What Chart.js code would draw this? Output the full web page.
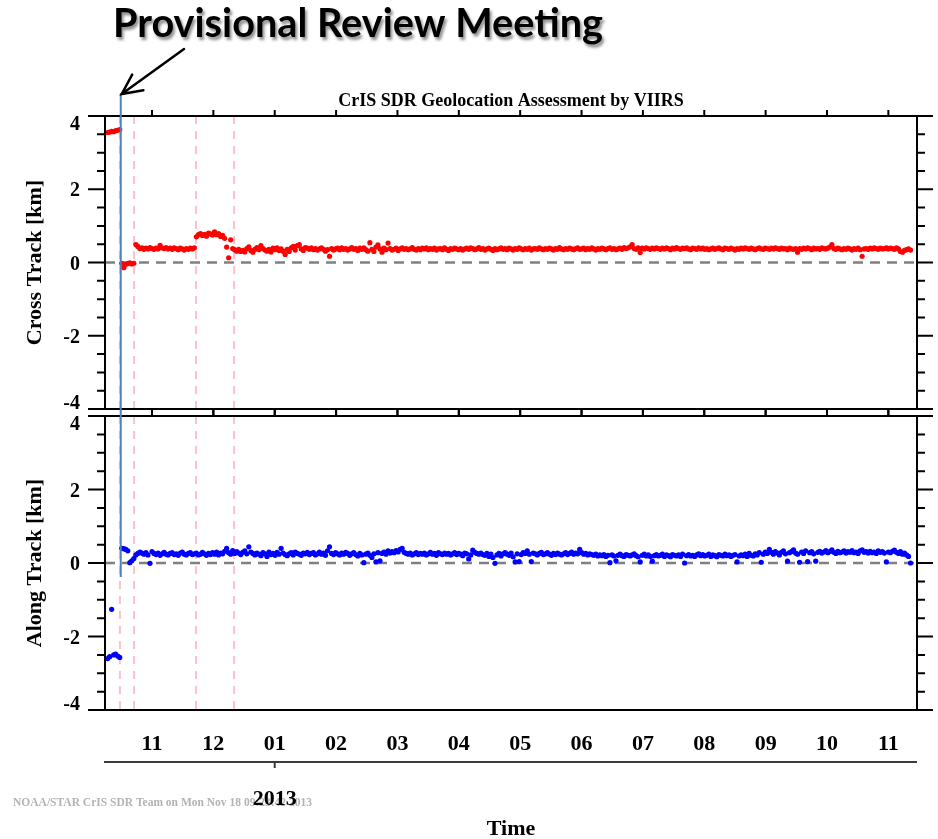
<!DOCTYPE html>
<html>
<head>
<meta charset="utf-8">
<script src="https://cdn.jsdelivr.net/npm/chart.js@4.4.1/dist/chart.umd.min.js"></script>
<style>
  html, body { margin: 0; padding: 0; background: #ffffff; }
  #wrap { position: relative; width: 938px; height: 839px; }
  #wrap canvas { position: absolute; left: 0; top: 0; }
</style>
</head>
<body>
<div id="wrap">
  <canvas id="cross" width="938" height="839"></canvas>
  <canvas id="along" width="938" height="839"></canvas>
</div>
<script>
// Time axis: days counted from 1 Nov 2012, month ticks every 365/12 days.
const MONTH_DAYS = 365 / 12;
const MONTH_LABELS = ['11', '12', '01', '02', '03', '04', '05', '06', '07', '08', '09', '10', '11'];
const YEAR_LABEL = '2013';
const YEAR_TICK_INDEX = 2;            // January
const DAY_MIN = -23.3;
const DAY_MAX = 379.2;

const Y_MAJOR = [-4, -2, 0, 2, 4];
const Y_TICK_LABELS = ['-4', '-2', '0', '2', '4'];
const Y_MINOR = [-3.5, -3, -2.5, -1.5, -1, -0.5, 0.5, 1, 1.5, 2.5, 3, 3.5];

// Event markers (days) and the provisional review date
const EVENT_DAYS = [-15.9, -8.9, 21.8, 40.7];
const REVIEW_DAY = -15.5;
const REVIEW_LINE_END = -0.38;        // lower end of the marker, along-track km

const PLOT_TITLE = 'CrIS SDR Geolocation Assessment by VIIRS';
const HEADING = 'Provisional Review Meeting';
const FOOTER = 'NOAA/STAR CrIS SDR Team on Mon Nov 18 09:23:42 2013';
const X_TITLE = 'Time';

// Daily cross-track offsets [km], starting at CROSS_START
const CROSS_START = -22;
const CROSS_TRACK = [
  3.55, 3.56, 3.58, 3.57, 3.60, 3.61, 3.63,
  -0.02, -0.14, -0.05, -0.03, -0.01, -0.04, -0.02,
  0.49, 0.44, 0.38, 0.40, 0.36, 0.39, 0.37, 0.41, 0.38, 0.36,
  0.39, 0.37, 0.47, 0.40, 0.38, 0.41, 0.37, 0.39, 0.36, 0.40,
  0.38, 0.35, 0.39, 0.37, 0.34, 0.38, 0.36, 0.39, 0.37, 0.40,
  0.70, 0.76, 0.79, 0.74, 0.77, 0.72, 0.80, 0.78, 0.75, 0.84, 0.76, 0.79, 0.71, 0.74,
  0.66, 0.42, 0.13, 0.62, 0.38,
  0.35, 0.31, 0.36, 0.30, 0.33, 0.29, 0.38, 0.43, 0.33, 0.28, 0.36, 0.41, 0.35, 0.46,
  0.38, 0.34, 0.31, 0.36, 0.29, 0.39, 0.35, 0.40, 0.33, 0.37, 0.31, 0.22, 0.36, 0.30,
  0.40, 0.44, 0.34, 0.46, 0.49, 0.37, 0.33, 0.41, 0.39, 0.36, 0.40, 0.35, 0.38, 0.34,
  0.37, 0.40, 0.36, 0.31, 0.35, 0.17, 0.38, 0.34, 0.37, 0.39, 0.35, 0.40, 0.36, 0.38,
  0.34, 0.37, 0.41, 0.36, 0.38, 0.33, 0.39, 0.36, 0.40, 0.35, 0.31, 0.54, 0.36, 0.30,
  0.42, 0.48, 0.37, 0.28, 0.39, 0.35, 0.53, 0.38, 0.34, 0.36, 0.39, 0.33, 0.37, 0.40,
  0.36, 0.38, 0.35, 0.37, 0.41, 0.36, 0.34, 0.38, 0.35, 0.39, 0.37, 0.40, 0.35, 0.38,
  0.36, 0.39, 0.34, 0.37, 0.38, 0.35, 0.40, 0.36, 0.33, 0.38, 0.36, 0.39, 0.37, 0.35,
  0.38, 0.34, 0.37, 0.39, 0.36, 0.40, 0.38, 0.35, 0.37, 0.41, 0.36, 0.38, 0.34, 0.37,
  0.39, 0.36, 0.33, 0.38, 0.35, 0.37, 0.40, 0.36, 0.38, 0.35, 0.39, 0.37, 0.34, 0.38,
  0.36, 0.40, 0.37, 0.35, 0.38, 0.36, 0.39, 0.34, 0.37, 0.38, 0.36, 0.40, 0.37, 0.35,
  0.38, 0.36, 0.39, 0.37, 0.34, 0.38, 0.36, 0.41, 0.37, 0.35, 0.38, 0.36, 0.39, 0.37,
  0.35, 0.38, 0.40, 0.36, 0.37, 0.39, 0.35, 0.38, 0.36, 0.40, 0.37, 0.34, 0.38, 0.36,
  0.39, 0.37, 0.35, 0.38, 0.40, 0.36, 0.38, 0.35, 0.37, 0.39, 0.36, 0.41, 0.38, 0.40,
  0.43, 0.49, 0.38, 0.36, 0.40, 0.27, 0.39, 0.37, 0.40, 0.38, 0.36, 0.39, 0.37, 0.40,
  0.38, 0.36, 0.39, 0.37, 0.40, 0.38, 0.35, 0.39, 0.37, 0.41, 0.38, 0.36, 0.39, 0.38,
  0.40, 0.37, 0.35, 0.39, 0.38, 0.36, 0.40, 0.37, 0.39, 0.36, 0.38, 0.35, 0.37, 0.39,
  0.36, 0.38, 0.40, 0.37, 0.35, 0.39, 0.38, 0.36, 0.39, 0.37, 0.34, 0.38, 0.36, 0.39,
  0.37, 0.40, 0.38, 0.36, 0.39, 0.37, 0.35, 0.38, 0.40, 0.37, 0.36, 0.39, 0.38, 0.36,
  0.39, 0.37, 0.40, 0.38, 0.36, 0.39, 0.37, 0.38, 0.35, 0.39, 0.37, 0.36, 0.38, 0.28,
  0.38, 0.36, 0.39, 0.37, 0.40, 0.38, 0.35, 0.39, 0.37, 0.38, 0.36, 0.40, 0.38, 0.37,
  0.39, 0.42, 0.49, 0.38, 0.36, 0.39, 0.37, 0.35, 0.38, 0.36, 0.39, 0.37, 0.34, 0.38,
  0.36, 0.39, 0.35, 0.17, 0.37, 0.38, 0.36, 0.39, 0.37, 0.40, 0.38, 0.36, 0.39, 0.37,
  0.38, 0.40, 0.37, 0.39, 0.38, 0.36, 0.40, 0.37, 0.30, 0.28, 0.33, 0.35, 0.37, 0.34
];

// Daily along-track offsets [km], starting at ALONG_START
const ALONG_START = -22;
const ALONG_TRACK = [
  -2.60, -2.55, -1.26, -2.50, -2.48, -2.53, -2.57,
  0.40, 0.39, 0.37, 0.33, 0.01, 0.06, 0.12, 0.22, 0.26,
  0.30, 0.27, 0.24, 0.28, 0.22, -0.01, 0.31, 0.26, 0.23, 0.27, 0.21, 0.25, 0.29, 0.24,
  0.22, 0.26, 0.28, 0.23, 0.25, 0.21, 0.27, 0.30, 0.24, 0.22, 0.26, 0.28, 0.23, 0.25,
  0.27, 0.22, 0.24, 0.29, 0.25, 0.21, 0.26, 0.23, 0.28, 0.24, 0.30, 0.22, 0.27, 0.25,
  0.32, 0.40, 0.28, 0.24, 0.34, 0.26, 0.31, 0.27, 0.23, 0.29, 0.33, 0.25, 0.44, 0.30,
  0.26, 0.22, 0.27, 0.24, 0.20, 0.28, 0.25, 0.18, 0.30, 0.23, 0.26, 0.21, 0.29, 0.24,
  0.40, 0.27, 0.23, 0.20, 0.25, 0.28, 0.22, 0.30, 0.26, 0.24, 0.21, 0.27, 0.25, 0.29,
  0.23, 0.26, 0.28, 0.22, 0.25, 0.30, 0.24, 0.27, 0.21, 0.33, 0.44, 0.26, 0.23, 0.28,
  0.25, 0.22, 0.27, 0.24, 0.29, 0.26, 0.21, 0.25, 0.28, 0.23, 0.19, 0.26, 0.22, 0.01,
  0.24, 0.27, 0.21, 0.15, 0.25, 0.03, 0.28, 0.06, 0.26, 0.30, 0.24, 0.33, 0.27, 0.31,
  0.28, 0.34, 0.30, 0.37, 0.40, 0.29, 0.26, 0.24, 0.27, 0.22, 0.25, 0.28, 0.23, 0.26,
  0.24, 0.27, 0.22, 0.25, 0.29, 0.24, 0.26, 0.21, 0.28, 0.25, 0.23, 0.27, 0.24, 0.26,
  0.22, 0.25, 0.28, 0.23, 0.26, 0.24, 0.20, 0.27, 0.25, 0.11, 0.22, 0.35, 0.29, 0.26,
  0.24, 0.27, 0.23, 0.21, 0.26, 0.18, 0.24, 0.15, -0.01, 0.22, 0.26, 0.19, 0.25, 0.28,
  0.24, 0.21, 0.27, 0.17, 0.03, 0.25, 0.04, 0.23, 0.28, 0.26, 0.33, 0.24, 0.04, 0.27,
  0.25, 0.22, 0.26, 0.29, 0.23, 0.25, 0.28, 0.24, 0.21, 0.26, 0.23, 0.27, 0.24, 0.22,
  0.25, 0.28, 0.23, 0.26, 0.30, 0.24, 0.27, 0.25, 0.37, 0.28, 0.24, 0.26, 0.22, 0.25,
  0.23, 0.21, 0.24, 0.19, 0.22, 0.20, 0.23, 0.18, 0.21, 0.01, 0.22, 0.19, 0.06, 0.21,
  0.24, 0.20, 0.18, 0.23, 0.21, 0.19, 0.22, 0.25, 0.20, 0.17, 0.03, 0.21, 0.24, 0.19,
  0.22, 0.18, 0.05, 0.20, 0.23, 0.19, 0.21, 0.24, 0.18, 0.22, 0.20, 0.17, 0.23, 0.21,
  0.19, 0.22, 0.18, 0.24, 0.00, 0.20, 0.23, 0.19, 0.21, 0.18, 0.22, 0.25, 0.20, 0.23,
  0.19, 0.21, 0.24, 0.18, 0.22, 0.20, 0.17, 0.23, 0.21, 0.19, 0.24, 0.20, 0.22, 0.18,
  0.21, 0.23, 0.03, 0.19, 0.22, 0.20, 0.24, 0.18, 0.26, 0.21, 0.19, 0.25, 0.22, 0.28,
  0.02, 0.24, 0.30, 0.26, 0.37, 0.29, 0.24, 0.31, 0.27, 0.22, 0.29, 0.33, 0.25, 0.05,
  0.28, 0.31, 0.36, 0.27, 0.24, 0.02, 0.30, 0.26, 0.33, 0.04, 0.28, 0.31, 0.25, 0.05,
  0.29, 0.32, 0.27, 0.30, 0.34, 0.28, 0.31, 0.36, 0.29, 0.26, 0.32, 0.28, 0.30, 0.33,
  0.27, 0.31, 0.29, 0.34, 0.28, 0.30, 0.26, 0.33, 0.36, 0.29, 0.31, 0.27, 0.32, 0.28,
  0.30, 0.26, 0.33, 0.29, 0.31, 0.27, 0.03, 0.30, 0.28, 0.32, 0.35, 0.29, 0.26, 0.31,
  0.24, 0.27, 0.22, 0.18, 0.00
];

const SERIF = '"Liberation Serif", "Times New Roman", Times, serif';

function toPoints(start, values) {
  return values.map((v, i) => ({ x: start + i, y: v }));
}

// Frame, tick marks, y labels and reference lines of one panel
const panelFrame = {
  id: 'panelFrame',
  beforeDatasetsDraw(chart) {
    const { ctx, chartArea: a, scales: { x, y } } = chart;
    ctx.save();
    ctx.beginPath();
    ctx.rect(a.left, a.top, a.right - a.left, a.bottom - a.top);
    ctx.clip();
    ctx.strokeStyle = '#ffc0cb';
    ctx.lineWidth = 2;
    ctx.setLineDash([8, 7]);
    for (const d of EVENT_DAYS) {
      const px = x.getPixelForValue(d);
      ctx.beginPath();
      ctx.moveTo(px, a.top);
      ctx.lineTo(px, a.bottom);
      ctx.stroke();
    }
    const y0 = y.getPixelForValue(0);
    ctx.strokeStyle = '#808080';
    ctx.lineWidth = 2.5;
    ctx.setLineDash([10, 7]);
    ctx.beginPath();
    ctx.moveTo(a.left, y0);
    ctx.lineTo(a.right, y0);
    ctx.stroke();
    ctx.restore();
  },
  afterDraw(chart, args, opts) {
    const { ctx, chartArea: a, scales: { x, y } } = chart;
    ctx.save();
    ctx.strokeStyle = '#000';
    ctx.lineWidth = 2;
    ctx.strokeRect(a.left, a.top, a.right - a.left, a.bottom - a.top);
    ctx.beginPath();
    for (const v of Y_MAJOR) {
      const py = y.getPixelForValue(v);
      ctx.moveTo(a.left - 17, py); ctx.lineTo(a.left, py);
      ctx.moveTo(a.right, py); ctx.lineTo(a.right + 16, py);
    }
    for (const v of Y_MINOR) {
      const py = y.getPixelForValue(v);
      ctx.moveTo(a.left - 8, py); ctx.lineTo(a.left, py);
      ctx.moveTo(a.right, py); ctx.lineTo(a.right + 8, py);
    }
    MONTH_LABELS.forEach((_, i) => {
      const px = x.getPixelForValue(i * MONTH_DAYS);
      ctx.moveTo(px, a.top - opts.topTick); ctx.lineTo(px, a.top);
      ctx.moveTo(px, a.bottom); ctx.lineTo(px, a.bottom + opts.bottomTick);
    });
    ctx.stroke();

    ctx.fillStyle = '#000';
    ctx.font = 'bold 20px ' + SERIF;
    ctx.textAlign = 'right';
    ctx.textBaseline = 'middle';
    Y_MAJOR.forEach((v, i) => {
      let py = y.getPixelForValue(v) + 2;
      py = Math.min(Math.max(py, a.top + 9), a.bottom - 5);
      ctx.fillText(Y_TICK_LABELS[i], a.left - 25, py);
    });
    ctx.restore();
  }
};

function panelOptions(yTitle, pad, showX, tickLens) {
  return {
    responsive: false,
    animation: false,
    devicePixelRatio: 1,
    layout: { padding: pad },
    events: [],
    plugins: {
      legend: { display: false },
      tooltip: { enabled: false },
      panelFrame: tickLens
    },
    scales: {
      x: {
        type: 'linear',
        display: showX,
        min: DAY_MIN,
        max: DAY_MAX,
        afterBuildTicks: s => { s.ticks = MONTH_LABELS.map((_, i) => ({ value: i * MONTH_DAYS })); },
        afterFit: s => { s.height = showX ? 60 : 0; },
        grid: { display: false, drawTicks: false },
        border: { display: false },
        ticks: {
          autoSkip: false,
          maxRotation: 0,
          padding: 21,
          color: '#000',
          font: { family: SERIF, size: 22, weight: 'bold' },
          callback: (v, i) => MONTH_LABELS[i]
        }
      },
      y: {
        type: 'linear',
        min: -4,
        max: 4,
        afterBuildTicks: s => { s.ticks = Y_MAJOR.map(v => ({ value: v })); },
        afterFit: s => { s.width = 105; },
        grid: { display: false, drawTicks: false },
        border: { display: false },
        ticks: { display: false },
        title: {
          display: true,
          text: yTitle,
          color: '#000',
          font: { family: SERIF, size: 22, weight: 'bold' },
          padding: { top: 22, bottom: 0 }
        }
      }
    }
  };
}

const crossChart = new Chart(document.getElementById('cross'), {
  type: 'scatter',
  data: {
    datasets: [{
      data: toPoints(CROSS_START, CROSS_TRACK),
      pointRadius: 2.6,
      pointBackgroundColor: '#ff0000',
      pointBorderWidth: 0,
      pointHoverRadius: 0
    }]
  },
  options: panelOptions('Cross Track [km]', { left: 0, right: 21, top: 116, bottom: 430 }, false, { topTick: 6, bottomTick: 7 }),
  plugins: [panelFrame]
});

// Annotations spanning both panels: title, review marker, arrow, date axis, credits
const overlay = {
  id: 'overlay',
  afterDraw(chart) {
    const { ctx, chartArea: a, scales: { x, y } } = chart;
    const top = crossChart.chartArea;
    const midX = (a.left + a.right) / 2;
    ctx.save();

    ctx.fillStyle = '#000';
    ctx.textAlign = 'center';
    ctx.textBaseline = 'alphabetic';
    ctx.font = 'bold 18px ' + SERIF;
    ctx.fillText(PLOT_TITLE, midX, top.top - 10);

    // year axis below the month labels
    const yearY = a.bottom + 52;
    const yx = x.getPixelForValue(YEAR_TICK_INDEX * MONTH_DAYS);
    ctx.strokeStyle = '#3a3a3a';
    ctx.lineWidth = 2;
    ctx.beginPath();
    ctx.moveTo(a.left - 1, yearY); ctx.lineTo(a.right, yearY);
    ctx.moveTo(yx, yearY); ctx.lineTo(yx, yearY + 6);
    ctx.stroke();

    // credit line
    ctx.save();
    ctx.font = 'bold 13px ' + SERIF;
    ctx.fillStyle = '#b3b3b3';
    ctx.textAlign = 'left';
    const fw = ctx.measureText(FOOTER).width;
    ctx.translate(13, 806);
    ctx.scale(299 / fw, 1);
    ctx.fillText(FOOTER, 0, 0);
    ctx.restore();

    ctx.fillStyle = '#000';
    ctx.font = 'bold 22px ' + SERIF;
    ctx.fillText(YEAR_LABEL, yx, 805);
    ctx.fillText(X_TITLE, midX, 835);

    // provisional review marker
    const bx = x.getPixelForValue(REVIEW_DAY);
    const bTop = top.top - 23;
    ctx.strokeStyle = '#4f81bd';
    ctx.lineWidth = 2;
    ctx.beginPath();
    ctx.moveTo(bx, bTop);
    ctx.lineTo(bx, y.getPixelForValue(REVIEW_LINE_END));
    ctx.stroke();

    // heading with drop shadow
    ctx.save();
    ctx.font = 'bold 40px Lato, "Open Sans", sans-serif';
    ctx.textAlign = 'left';
    const hw = ctx.measureText(HEADING).width;
    ctx.shadowColor = 'rgba(0,0,0,0.45)';
    ctx.shadowOffsetX = 2;
    ctx.shadowOffsetY = 3;
    ctx.shadowBlur = 3;
    ctx.translate(113, 37);
    ctx.scale(490 / hw, 1);
    ctx.fillStyle = '#000';
    ctx.fillText(HEADING, 0, 0);
    ctx.restore();

    // arrow pointing at the marker
    const tipX = bx + 1, tipY = bTop + 1;
    const tailX = 184, tailY = 49;
    const ang = Math.atan2(tailY - tipY, tailX - tipX);
    const wing = 22, spread = 0.45;
    ctx.strokeStyle = '#000';
    ctx.lineWidth = 2.5;
    ctx.lineCap = 'round';
    ctx.beginPath();
    ctx.moveTo(tailX, tailY); ctx.lineTo(tipX, tipY);
    ctx.moveTo(tipX + wing * Math.cos(ang - spread), tipY + wing * Math.sin(ang - spread));
    ctx.lineTo(tipX, tipY);
    ctx.lineTo(tipX + wing * Math.cos(ang + spread), tipY + wing * Math.sin(ang + spread));
    ctx.stroke();

    ctx.restore();
  }
};

const alongChart = new Chart(document.getElementById('along'), {
  type: 'scatter',
  data: {
    datasets: [{
      data: toPoints(ALONG_START, ALONG_TRACK),
      pointRadius: 2.6,
      pointBackgroundColor: '#0000ff',
      pointBorderWidth: 0,
      pointHoverRadius: 0
    }]
  },
  options: panelOptions('Along Track [km]', { left: 0, right: 21, top: 416, bottom: 69 }, true, { topTick: 7, bottomTick: 0 }),
  plugins: [panelFrame, overlay]
});
</script>
</body>
</html>
